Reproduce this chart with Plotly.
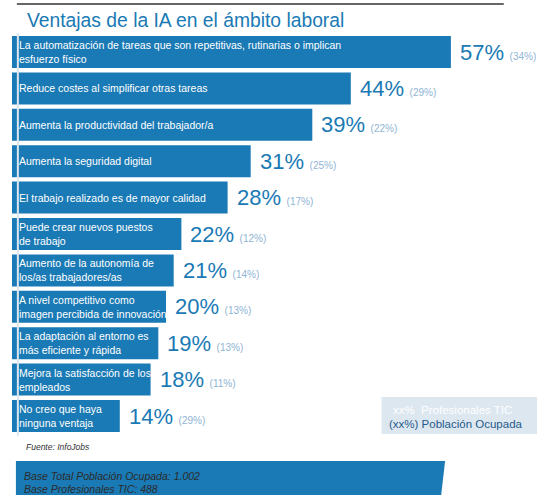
import plotly.graph_objects as go

# ---- data ----
labels = [
    "La automatización de tareas que son repetitivas, rutinarias o implican<br>esfuerzo físico",
    "Reduce costes al simplificar otras tareas",
    "Aumenta la productividad del trabajador/a",
    "Aumenta la seguridad digital",
    "El trabajo realizado es de mayor calidad",
    "Puede crear nuevos puestos<br>de trabajo",
    "Aumento de la autonomía de<br>los/as trabajadores/as",
    "A nivel competitivo como<br>imagen percibida de innovación",
    "La adaptación al entorno es<br>más eficiente y rápida",
    "Mejora la satisfacción de los<br>empleados",
    "No creo que haya<br>ninguna ventaja",
]
tic_pct = [57, 44, 39, 31, 28, 22, 21, 20, 19, 18, 14]
ocupada_pct = [34, 29, 22, 25, 17, 12, 14, 13, 13, 11, 29]

title = "Ventajas de la IA en el ámbito laboral"
source = "Fuente: InfoJobs"
base_lines = ["Base Total Población Ocupada: 1.002", "Base Profesionales TIC: 488"]
legend_tic = "xx%  Profesionales TIC"
legend_ocu = "(xx%) Población Ocupada"

# ---- layout geometry ----
W, H = 537, 495
x0px = 12
px_per_pct = 7.7
yc0, dy = 52, 36.4
BLUE = "#1a7ab5"
LIGHT = "#8fb4d4"
FONT = "Liberation Sans, Arial, sans-serif"

def px(x):
    return x / W

def py(y):
    return 1 - y / H

pos = list(range(len(labels)))

fig = go.Figure()
fig.add_trace(go.Bar(
    x=tic_pct, y=pos, orientation="h", width=0.88,
    marker=dict(color=BLUE, line=dict(width=0)),
    hoverinfo="skip", showlegend=False,
))

ann = []
for i, lab in enumerate(labels):
    ann.append(dict(x=0, y=i, xref="x", yref="y", xanchor="left", yanchor="middle",
                    xshift=5, text=lab, showarrow=False, align="left",
                    font=dict(family=FONT, size=10.5, color="white")))
    ann.append(dict(x=tic_pct[i], y=i, xref="x", yref="y", xanchor="left", yanchor="middle",
                    xshift=7, yshift=0,
                    text=f"{tic_pct[i]}%<span style='font-size:10px;color:{LIGHT}'>  ({ocupada_pct[i]}%)</span>",
                    showarrow=False, font=dict(family=FONT, size=22, color=BLUE)))

ann.append(dict(x=px(13), y=py(20), xref="paper", yref="paper", xanchor="left", yanchor="middle",
                text=title, showarrow=False, font=dict(family=FONT, size=19.3, color=BLUE)))
ann.append(dict(x=px(12), y=py(447), xref="paper", yref="paper", xanchor="left", yanchor="middle",
                text=f"<i>{source}</i>", showarrow=False, font=dict(family=FONT, size=8.5, color="#333333")))
ann.append(dict(x=px(10), y=py(476), xref="paper", yref="paper", xanchor="left", yanchor="middle",
                text=f"<i>{base_lines[0]}</i>", showarrow=False, font=dict(family=FONT, size=10.5, color="#2b2b2b")))
ann.append(dict(x=px(10), y=py(489), xref="paper", yref="paper", xanchor="left", yanchor="middle",
                text=f"<i>{base_lines[1]}</i>", showarrow=False, font=dict(family=FONT, size=10.5, color="#2b2b2b")))
ann.append(dict(x=px(388), y=py(410), xref="paper", yref="paper", xanchor="left", yanchor="middle",
                text=legend_tic, showarrow=False, font=dict(family=FONT, size=11.5, color="white")))
ann.append(dict(x=px(384), y=py(424), xref="paper", yref="paper", xanchor="left", yanchor="middle",
                text=legend_ocu, showarrow=False, font=dict(family=FONT, size=11.5, color="#255a8a")))

shapes = [
    dict(type="line", xref="paper", yref="paper", x0=px(5), x1=px(503), y0=py(4), y1=py(4),
         line=dict(color="#666666", width=2)),
    dict(type="line", xref="paper", yref="paper", x0=px(6), x1=px(6), y0=py(33), y1=py(436),
         line=dict(color="#dde6ee", width=2)),
    dict(type="rect", xref="paper", yref="paper", x0=px(378), x1=px(537), y0=py(397), y1=py(434),
         fillcolor="#dde7f0", line=dict(width=0), layer="below"),
    dict(type="path", xref="paper", yref="paper",
         path=f"M {px(4)} {py(461)} L {px(443)} {py(461)} L {px(439)} {py(495)} L {px(4)} {py(495)} Z",
         fillcolor=BLUE, line=dict(width=0), layer="below"),
]

fig.update_layout(
    width=W, height=H,
    margin=dict(l=x0px, r=0, t=0, b=0),
    paper_bgcolor="white", plot_bgcolor="rgba(0,0,0,0)",
    xaxis=dict(range=[0, (W - x0px) / px_per_pct], visible=False, fixedrange=True),
    yaxis=dict(range=[(H - yc0) / dy, -yc0 / dy], visible=False, fixedrange=True),
    annotations=ann, shapes=shapes, showlegend=False,
    font=dict(family=FONT),
)

fig.write_html("out.html", config={"displayModeBar": False},
               post_script="document.body.style.margin='0';document.body.style.overflow='hidden';")
